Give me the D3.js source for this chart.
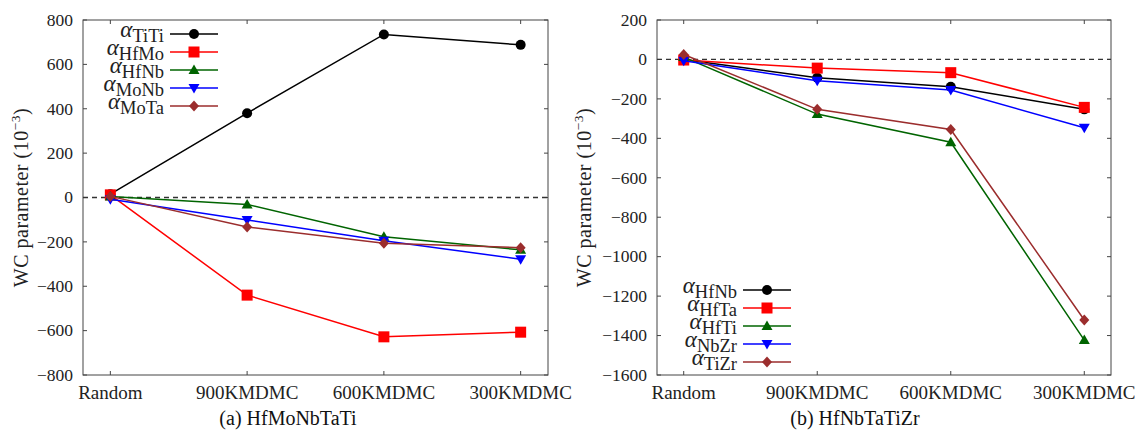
<!DOCTYPE html>
<html>
<head>
<meta charset="utf-8">
<script src="https://cdn.jsdelivr.net/npm/d3@7"></script>
<style>
  body { margin: 0; background: #fff; }
</style>
</head>
<body>
<svg id="chart" width="1138" height="432"></svg>
<script>
// categories shared by both panels
const categories = ["Random", "900KMDMC", "600KMDMC", "300KMDMC"];

// (a) HfMoNbTaTi
const namesA = ["TiTi", "HfMo", "HfNb", "MoNb", "MoTa"];
const titiA = [15, 380, 735, 688];
const hfmoA = [12, -440, -628, -607];
const hfnbA = [5, -31, -177, -236];
const monbA = [-8, -101, -195, -278];
const motaA = [5, -133, -206, -226];
const ticksA = [-800, -600, -400, -200, 0, 200, 400, 600, 800];

// (b) HfNbTaTiZr
const namesB = ["HfNb", "HfTa", "HfTi", "NbZr", "TiZr"];
const hfnbB = [0, -93, -138, -253];
const hftaB = [-3, -44, -67, -243];
const hftiB = [12, -277, -420, -1423];
const nbzrB = [-7, -108, -155, -346];
const tizrB = [25, -253, -355, -1321];
const ticksB = [-1600, -1400, -1200, -1000, -800, -600, -400, -200, 0, 200];

const colors = ["#000000", "#ff0000", "#006400", "#0000ff", "#9b2d2d"];
const shapes = ["circle", "square", "up", "down", "diamond"];
const FONT = "'Liberation Serif', 'Times New Roman', serif";

const svg = d3.select("#chart");

function marker(g, shape, x, y, color) {
    if (shape == "circle") {
        g.append("circle").attr("cx", x).attr("cy", y).attr("r", 5).attr("fill", color);
    } else if (shape == "square") {
        g.append("rect").attr("x", x - 5.5).attr("y", y - 5.5).attr("width", 11).attr("height", 11).attr("fill", color);
    } else if (shape == "up") {
        g.append("path").attr("d", `M${x},${y - 5.5}L${x + 5.5},${y + 4}L${x - 5.5},${y + 4}Z`).attr("fill", color);
    } else if (shape == "down") {
        g.append("path").attr("d", `M${x},${y + 5.5}L${x + 5.5},${y - 4}L${x - 5.5},${y - 4}Z`).attr("fill", color);
    } else {
        g.append("path").attr("d", `M${x},${y - 5.5}L${x + 5},${y}L${x},${y + 5.5}L${x - 5},${y}Z`).attr("fill", color);
    }
}

function label(g) {
    return g.append("text").attr("font-family", FONT).attr("fill", "#222");
}

function drawPanel(p) {
    const g = svg.append("g");
    const x = d3.scalePoint().domain(categories).range([p.left, p.right]).padding(0.2);
    const y = d3.scaleLinear().domain([p.ticks[0], p.ticks[p.ticks.length - 1]]).range([p.bottom, p.top]);

    // frame
    g.append("rect")
        .attr("x", p.left).attr("y", p.top)
        .attr("width", p.right - p.left).attr("height", p.bottom - p.top)
        .attr("fill", "none").attr("stroke", "#444").attr("stroke-width", 1);

    // inward ticks on all four sides
    p.ticks.forEach(function(t) {
        g.append("line").attr("x1", p.left).attr("x2", p.left + 4).attr("y1", y(t)).attr("y2", y(t)).attr("stroke", "#444");
        g.append("line").attr("x1", p.right).attr("x2", p.right - 4).attr("y1", y(t)).attr("y2", y(t)).attr("stroke", "#444");
        label(g).attr("x", p.left - 10).attr("y", y(t) + 5.8)
            .attr("text-anchor", "end").attr("font-size", 17.5)
            .text(t < 0 ? "\u2212" + Math.abs(t) : t);
    });
    categories.forEach(function(c) {
        g.append("line").attr("x1", x(c)).attr("x2", x(c)).attr("y1", p.bottom).attr("y2", p.bottom - 4).attr("stroke", "#444");
        g.append("line").attr("x1", x(c)).attr("x2", x(c)).attr("y1", p.top).attr("y2", p.top + 4).attr("stroke", "#444");
        label(g).attr("x", x(c)).attr("y", p.bottom + 24)
            .attr("text-anchor", "middle").attr("font-size", 19).text(c);
    });

    // zero line
    g.append("line").attr("x1", p.left).attr("x2", p.right).attr("y1", y(0)).attr("y2", y(0))
        .attr("stroke", "#333").attr("stroke-width", 1.3).attr("stroke-dasharray", "5,4");

    // series
    const line = d3.line().x(function(d, i) { return x(categories[i]); }).y(function(d) { return y(d); });
    p.series.forEach(function(vals, k) {
        g.append("path").attr("d", line(vals)).attr("fill", "none")
            .attr("stroke", colors[k]).attr("stroke-width", 1.5);
        vals.forEach(function(v, i) { marker(g, shapes[k], x(categories[i]), y(v), colors[k]); });
    });

    // legend
    p.names.forEach(function(n, k) {
        const ly = p.legY + k * 18;
        g.append("line").attr("x1", p.legX).attr("x2", p.legX + 48).attr("y1", ly).attr("y2", ly)
            .attr("stroke", colors[k]).attr("stroke-width", 1.5);
        marker(g, shapes[k], p.legX + 24, ly, colors[k]);
        const tx = label(g).attr("x", p.legX - 6).attr("y", ly + 3).attr("text-anchor", "end");
        tx.append("tspan").attr("font-size", 23).attr("font-style", "italic").text("\u03b1");
        tx.append("tspan").attr("font-size", 18.5).attr("dy", 4.5).text(n);
    });

    // y label
    const yl = label(g)
        .attr("transform", `translate(${p.labelX},${(p.top + p.bottom) / 2}) rotate(-90)`)
        .attr("text-anchor", "middle").attr("font-size", 20).attr("letter-spacing", 0.5);
    yl.append("tspan").text("WC parameter (10");
    yl.append("tspan").attr("font-size", 13.5).attr("dy", -8).text("\u22123");
    yl.append("tspan").attr("dy", 8).text(")");

    // caption
    label(g).attr("x", p.capX).attr("y", 425)
        .attr("text-anchor", "middle").attr("font-size", 20).attr("fill", "#111").text(p.caption);
}

drawPanel({
    left: 83, right: 548, top: 20, bottom: 375,
    ticks: ticksA, series: [titiA, hfmoA, hfnbA, monbA, motaA], names: namesA,
    legX: 170, legY: 34, labelX: 28, capX: 288, caption: "(a) HfMoNbTaTi"
});
drawPanel({
    left: 657, right: 1111, top: 20, bottom: 375,
    ticks: ticksB, series: [hfnbB, hftaB, hftiB, nbzrB, tizrB], names: namesB,
    legX: 743, legY: 290, labelX: 591, capX: 855, caption: "(b) HfNbTaTiZr"
});
</script>
</body>
</html>
